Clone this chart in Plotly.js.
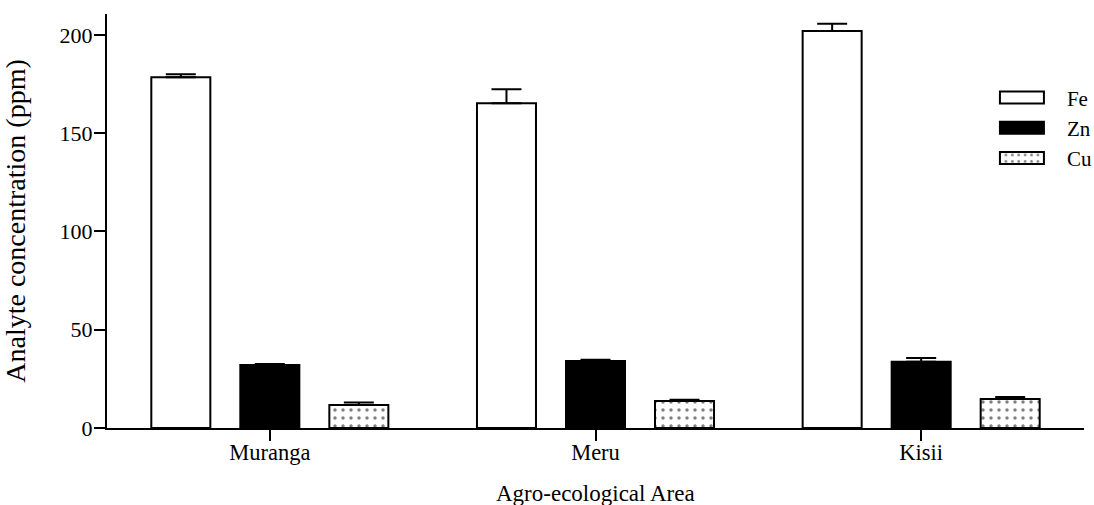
<!DOCTYPE html>
<html>
<head>
<meta charset="utf-8">
<script src="https://cdn.plot.ly/plotly-3.0.1.min.js"></script>
<style>
  html, body { margin: 0; padding: 0; background: #fff; }
  #chart { width: 1094px; height: 505px; }
</style>
</head>
<body>
<div id="chart"></div>
<script>
var categories = ['Muranga', 'Meru', 'Kisii'];
var seriesNames = ['Fe', 'Zn', 'Cu'];
var feValues = [178.4, 165.2, 202.0];
var feErrors = [1.6, 7.1, 3.7];
var znValues = [32.0, 34.1, 33.7];
var znErrors = [0.5, 0.6, 1.9];
var cuValues = [11.7, 13.7, 14.7];
var cuErrors = [1.3, 0.7, 1.1];
var yTickValues = [0, 50, 100, 150, 200];
var xTitle = 'Agro-ecological Area';
var yTitle = 'Analyte concentration (ppm)';

var FONT = '"Liberation Serif", "Times New Roman", serif';

function errBar(arr) {
  return {
    type: 'data', array: arr, arrayminus: arr.map(function () { return 0; }),
    symmetric: false, visible: true, color: '#000', thickness: 2, width: 15
  };
}

var data = [
  {
    type: 'bar', name: seriesNames[0], x: categories, y: feValues,
    marker: { color: '#fff', line: { color: '#000', width: 2 } },
    error_y: errBar(feErrors)
  },
  {
    type: 'bar', name: seriesNames[1], x: categories, y: znValues,
    marker: { color: '#000', line: { color: '#000', width: 2 } },
    error_y: errBar(znErrors)
  },
  {
    type: 'bar', name: seriesNames[2], x: categories, y: cuValues,
    marker: {
      color: '#fff', line: { color: '#000', width: 2 },
      pattern: { shape: '.', size: 8, solidity: 0.15, fgcolor: '#000', bgcolor: '#fff', fillmode: 'overlay' }
    },
    error_y: errBar(cuErrors)
  }
];

var layout = {
  width: 1094, height: 505,
  margin: { l: 107, r: 10, t: 14, b: 77 },
  paper_bgcolor: '#fff', plot_bgcolor: '#fff',
  font: { family: FONT, color: '#000', size: 22 },
  barmode: 'group', bargap: 0.18, bargroupgap: 0.337,
  showlegend: true,
  legend: {
    x: 0.916, y: 0.847, xanchor: 'left', yanchor: 'top',
    bgcolor: 'rgba(0,0,0,0)', borderwidth: 0,
    font: { family: FONT, size: 21, color: '#000' },
    tracegroupgap: 0
  },
  annotations: [
    {
      text: xTitle, xref: 'paper', yref: 'paper', x: 0.5, y: 0,
      xanchor: 'center', yanchor: 'middle', yshift: -65, showarrow: false,
      font: { family: FONT, size: 23, color: '#000' }
    }
  ],
  xaxis: {
    type: 'category', range: [-0.5, 2.5],
    showline: true, linecolor: '#000', linewidth: 2,
    ticks: 'outside', ticklen: 11, tickwidth: 2, tickcolor: '#000',
    ticklabelstandoff: -8,
    showgrid: false, zeroline: false,
    tickfont: { family: FONT, size: 22.5, color: '#000' }
  },
  yaxis: {
    range: [0, 210.6], tickvals: yTickValues, ticktext: yTickValues.map(String),
    showline: true, linecolor: '#000', linewidth: 2,
    ticks: 'outside', ticklen: 11, tickwidth: 2, tickcolor: '#000',
    ticklabelstandoff: -3,
    showgrid: false, zeroline: false,
    tickfont: { family: FONT, size: 22, color: '#000' },
    title: { text: yTitle, standoff: 26, font: { family: FONT, size: 28, color: '#000' } }
  }
};

function fixLegend(gd) {
  gd.querySelectorAll('.legend .traces').forEach(function (tr) {
    var p = tr.querySelector('.legendpoints path');
    if (p) {
      p.setAttribute('d', 'M-22,6H22V-6H-22Z');
      p.setAttribute('transform', 'translate(20,0)');
    }
    var t = tr.querySelector('.legendtext');
    if (t) { t.setAttribute('x', 65); }
  });
  var sb = gd.querySelector('.legend .scrollbox');
  if (sb) { sb.removeAttribute('clip-path'); }
}

Plotly.newPlot('chart', data, layout, { staticPlot: true, displayModeBar: false }).then(fixLegend);
</script>
</body>
</html>
